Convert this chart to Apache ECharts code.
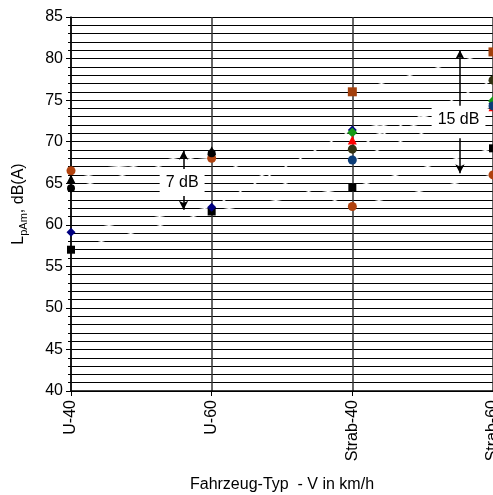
<!DOCTYPE html>
<html>
<head>
<meta charset="utf-8">
<script src="https://cdn.jsdelivr.net/npm/echarts@6/dist/echarts.min.js"></script>
<style>
  html, body { margin: 0; padding: 0; background: #fff; }
  #chart { width: 493px; height: 495px; }
</style>
</head>
<body>
<div id="chart"></div>
<script>
    // Fahrzeug-Typ (Kategorien)
    const categories = ['U-40', 'U-60', 'Strab-40', 'Strab-60'];
    const yTicks = [40, 45, 50, 55, 60, 65, 70, 75, 80, 85];

    // Pegel je Messreihe, dB(A)
    const blackSquare  = [57.0, 61.6, 64.5, 69.2];
    const orangeCircle = [66.5, 68.0, 62.2, 66.0];
    const navyDiamond  = [59.1, 62.1, 71.4, 74.6];
    const blackTri     = [65.5, 68.9, null, null];
    const blackCircle  = [64.4, 68.6, null, null];
    const brownSquare  = [null, null, 76.0, 80.8];
    const greenDiamond = [null, null, 71.1, 74.9];
    const redTri       = [null, null, 70.2, 74.2];
    const oliveCircle  = [null, null, 69.1, 77.4];
    const blueCircle   = [null, null, 67.8, 74.3];

    // Spannweiten-Pfeile (Position zwischen den Kategorien, Pegel)
    const span7  = { x: 0.8,   label: 65.1, up: [66.6, 68.9], down: [63.6, 61.8] };
    const span15 = { x: 2.765, label: 72.7, up: [73.6, 81.0], down: [70.4, 66.2] };

    const FONT = 'Liberation Sans';

    const seriesDefs = [
        { data: blackSquare,  symbol: 'rect',     color: '#000000', size: 8 },
        { data: orangeCircle, symbol: 'circle',   color: '#B0420E', size: 9 },
        { data: navyDiamond,  symbol: 'diamond',  color: '#000080', size: 9 },
        { data: blackTri,     symbol: 'triangle', color: '#000000', size: 9 },
        { data: blackCircle,  symbol: 'circle',   color: '#000000', size: 8 },
        { data: brownSquare,  symbol: 'rect',     color: '#A3400C', size: 9 },
        { data: greenDiamond, symbol: 'diamond',  color: '#169A16', size: 10 },
        { data: redTri,       symbol: 'triangle', color: '#FF0000', size: 9 },
        { data: oliveCircle,  symbol: 'circle',   color: '#333314', size: 9 },
        { data: blueCircle,   symbol: 'circle',   color: '#0B3D78', size: 9 }
    ];

    function points(arr) {
        return arr.map((v, i) => [i, v]).filter(p => p[1] != null);
    }

    const series = [];
    // weiße Verbindungslinien (nur auf dem Gitter sichtbar)
    seriesDefs.forEach(d => {
        series.push({
            type: 'line',
            data: points(d.data),
            symbol: 'none',
            lineStyle: { color: '#ffffff', width: 1.1 },
            z: 3,
            silent: true
        });
    });
    // Marker
    seriesDefs.forEach(d => {
        series.push({
            type: 'scatter',
            data: points(d.data),
            symbol: d.symbol,
            symbolSize: d.size,
            itemStyle: { color: d.color, opacity: 1 },
            z: 5
        });
    });

    const arrowLine = (s) => [
        [{ coord: [s.x, s.up[0]] }, { coord: [s.x, s.up[1]] }],
        [{ coord: [s.x, s.down[0]] }, { coord: [s.x, s.down[1]] }]
    ];

    // Beschriftung + Pfeile
    series.push({
        type: 'scatter',
        data: [
            { value: [span7.x - 0.01, span7.label], label: { formatter: '7 dB' } },
            { value: [span15.x - 0.01, span15.label], label: { formatter: '15 dB' } }
        ],
        symbolSize: 0,
        z: 6,
        itemStyle: { opacity: 1 },
        label: {
            show: true,
            position: 'inside',
            color: '#000',
            fontFamily: FONT,
            fontSize: 16,
            backgroundColor: '#ffffff',
            padding: [6, 6, 5, 6]
        },
        markLine: {
            silent: true,
            symbol: ['none', 'arrow'],
            symbolSize: [7, 9],
            label: { show: false },
            lineStyle: { color: '#000', width: 1.5, type: 'solid', opacity: 1 },
            data: arrowLine(span7).concat(arrowLine(span15))
        }
    });

    const chart = echarts.init(document.getElementById('chart'));
    chart.setOption({
        animation: false,
        backgroundColor: '#ffffff',
        grid: { left: 71, right: 0, top: 17, bottom: 104, outerBoundsMode: 'none', containLabel: false },
        xAxis: {
            type: 'value',
            min: 0,
            max: categories.length - 1,
            interval: 1,
            name: 'Fahrzeug-Typ  - V in km/h',
            nameLocation: 'middle',
            nameGap: 86,
            nameTextStyle: { color: '#000', fontFamily: FONT, fontSize: 16 },
            axisLine: { lineStyle: { color: '#000', width: 1.5 } },
            axisTick: { show: true, length: 5, lineStyle: { color: '#000' } },
            axisLabel: {
                rotate: 90,
                margin: 9,
                color: '#000',
                fontFamily: FONT,
                fontSize: 16,
                formatter: v => categories[v] || ''
            },
            splitLine: { show: true, lineStyle: { color: '#333', width: 1.5 } }
        },
        yAxis: {
            type: 'value',
            min: yTicks[0],
            max: yTicks[yTicks.length - 1],
            interval: 5,
            name: '{a|L}{s|pAm}{a|, dB(A)}',
            nameLocation: 'middle',
            nameGap: 42,
            nameTextStyle: {
                rich: {
                    a: { fontFamily: FONT, fontSize: 16, color: '#000', lineHeight: 20 },
                    s: { fontFamily: FONT, fontSize: 11, color: '#000', lineHeight: 20, verticalAlign: 'bottom', padding: [8, 0, 0, 0] }
                }
            },
            axisLine: { show: true, lineStyle: { color: '#000', width: 1.5 } },
            axisTick: { show: true, length: 5, lineStyle: { color: '#000' } },
            minorTick: { show: true, splitNumber: 5, length: 3, lineStyle: { color: '#000' } },
            axisLabel: { color: '#000', fontFamily: FONT, fontSize: 16, margin: 8 },
            splitLine: { show: true, lineStyle: { color: '#000', width: 1 } },
            minorSplitLine: { show: true, lineStyle: { color: '#000', width: 1 } }
        },
        series: series
    });
</script>
</body>
</html>
